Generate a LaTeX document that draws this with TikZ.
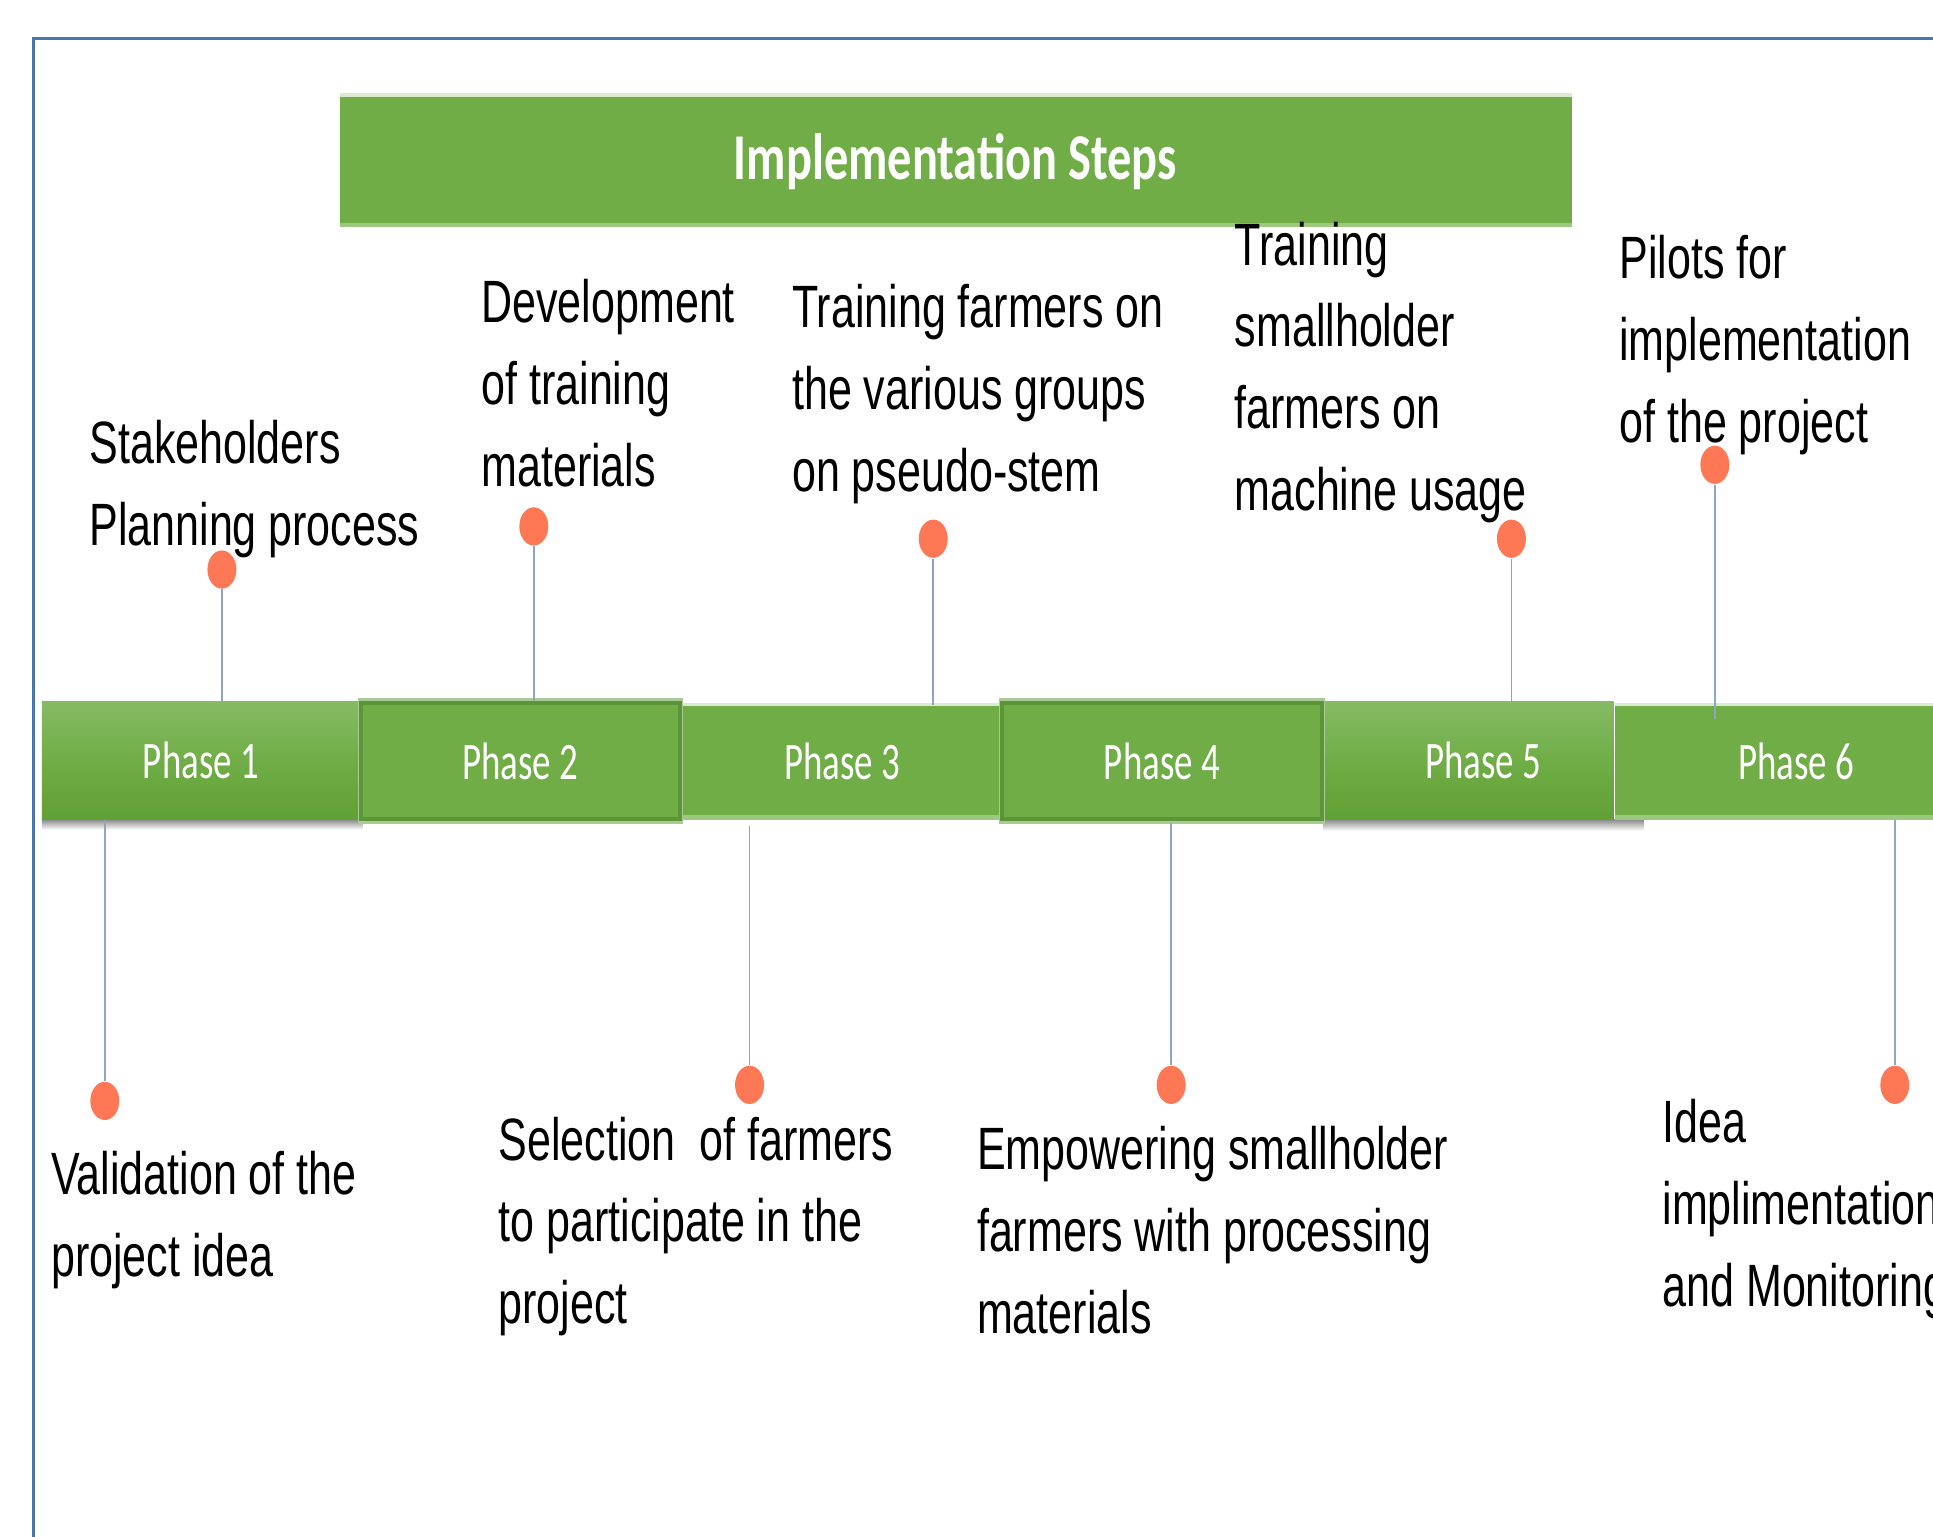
\documentclass[tikz,border=0pt]{standalone}
\usepackage{fontspec}
\setmainfont{Liberation Sans}[FakeStretch=0.72]
\newfontfamily\calibfont{Carlito}[FakeStretch=0.7]
\newfontfamily\calibtitle{Carlito}[FakeStretch=0.74]
\usetikzlibrary{shapes.geometric}
\newcommand\pxu{0.012328cm}
\newcommand\txtlines[1]{\vtop{\baselineskip=23.3pt\halign{##\hfil\cr#1\crcr}}}
\definecolor{grn}{HTML}{70AD47}
\definecolor{grntop}{HTML}{86BB64}
\definecolor{grnbot}{HTML}{61A034}
\definecolor{grnborder}{HTML}{5B9538}
\definecolor{grnhalo}{HTML}{A9C996}
\definecolor{striplight}{HTML}{DCEAD2}
\definecolor{stripmid}{HTML}{9CC87F}
\definecolor{dotc}{HTML}{FF7856}
\definecolor{connc}{HTML}{8FA4C0}
\definecolor{framec}{HTML}{4A76B0}
\definecolor{shadowc}{HTML}{8E8E8E}
\begin{document}
\begin{tikzpicture}[x=0.012328cm,y=-0.012328cm,
  boxbase/.style={rectangle, inner sep=0pt, outer sep=0pt},
  phasetxt/.style={text=white, font=\calibfont\fontsize{15pt}{18pt}\selectfont},
  phasegrad/.style={boxbase, top color=grntop, bottom color=grnbot, middle color=grn, phasetxt},
  phaseborder/.style={boxbase, fill=grn, draw=grnborder, line width=1.1pt, phasetxt},
  phasestrip/.style={boxbase, fill=grn, phasetxt},
  titlebox/.style={boxbase, fill=grn},
  titletxt/.style={text=white, inner sep=0pt, font=\calibtitle\bfseries\fontsize{18.6pt}{22pt}\selectfont},
  dot/.style={ellipse, fill=dotc, inner sep=0pt, minimum width=23.5*\pxu, minimum height=31*\pxu},
  conn/.style={draw=connc, line width=0.5pt},
  bodytxt/.style={inner sep=0pt, anchor=base west, text=black, font=\fontsize{17pt}{23.3pt}\selectfont},
  frameline/.style={draw=framec, line width=0.8pt}
]
\clip (0,0) rectangle (1568,1246);
\fill[white] (0,0) rectangle (1568,1246);
% frame
\draw[frameline] (27,1260) -- (27,31.5) -- (1580,31.5);

% title
\node[titlebox, minimum width=999*\pxu, minimum height=108.5*\pxu] (title) at (775.5,129.75) {};
\fill[striplight] (title.north west) rectangle ([yshift=-3*\pxu]title.north east);
\fill[stripmid] ([yshift=3.5*\pxu]title.south west) rectangle (title.south east);
\node[titletxt, anchor=base] (titletext) at (775,146) {Implementation Steps};

% shadows
\shade[top color=shadowc, bottom color=white] (34,665) rectangle (294,673);
\shade[top color=shadowc, bottom color=white] (1073,665) rectangle (1333,674);

% phase boxes
\node[phasegrad, minimum width=258*\pxu, minimum height=96*\pxu] (p1) at (163,617) {Phase 1};
\node[phasestrip, minimum width=258*\pxu, minimum height=95*\pxu] (p3) at (683,617.5) {Phase 3};
\fill[striplight] (p3.north west) rectangle ([yshift=-3*\pxu]p3.north east);
\fill[stripmid] ([yshift=3.5*\pxu]p3.south west) rectangle (p3.south east);
\node[phasestrip, minimum width=294*\pxu, minimum height=95*\pxu] (p6) at (1457,617.5) {Phase 6};
\fill[striplight] (p6.north west) rectangle ([yshift=-3*\pxu]p6.north east);
\fill[stripmid] ([yshift=3.5*\pxu]p6.south west) rectangle (p6.south east);
\node[phasegrad, minimum width=236*\pxu, minimum height=96*\pxu] (p5) at (1191,617) {\hspace*{0.296cm}Phase 5};
\fill[grnhalo] (290,566.5) rectangle (554,668.5);
\fill[grnhalo] (810,566.5) rectangle (1075,668.5);
\node[phaseborder, minimum width=259*\pxu, minimum height=94*\pxu] (p2) at (422,617.5) {Phase 2};
\node[phaseborder, minimum width=260*\pxu, minimum height=94*\pxu] (p4) at (942.5,617.5) {Phase 4};

% dots
\node[dot] (t1) at (180,462) {};
\node[dot] (t2) at (433,427) {};
\node[dot] (t3) at (757,437) {};
\node[dot] (t4) at (1226,437) {};
\node[dot] (t5) at (1391,377) {};
\node[dot] (b1) at (85,893) {};
\node[dot] (b2) at (608,880) {};
\node[dot] (b3) at (950,880) {};
\node[dot] (b4) at (1537,880) {};

% connectors
\draw[conn] (t1.south) -- (t1 |- p1.north);
\draw[conn] (t2.south) -- ([yshift=1.5*\pxu]t2 |- p2.north);
\draw[conn] (t3.south) -- ([yshift=-2*\pxu]t3 |- p3.north);
\draw[conn] (t4.south) -- ([yshift=-2*\pxu]t4 |- p5.north);
\draw[conn] (t5.south) -- ([yshift=-13*\pxu]t5 |- p6.north);
\draw[conn] (b1 |- p1.south) -- (b1.north);
\draw[conn] ([yshift=-5*\pxu]b2 |- p3.south) -- (b2.north);
\draw[conn] ([yshift=-3*\pxu]b3 |- p4.south) -- (b3.north);
\draw[conn] (b4 |- p6.south) -- (b4.north);

% texts
\node[bodytxt] (s1) at (72,376) {\txtlines{Stakeholders\cr Planning process}};
\node[bodytxt] (s2) at (390,262) {\txtlines{Development\cr of training\cr materials}};
\node[bodytxt] (s3) at (642,266) {\txtlines{Training farmers on\cr the various groups\cr on pseudo-stem}};
\node[bodytxt] (s4) at (1001,215) {\txtlines{Training\cr smallholder\cr farmers on\cr machine usage}};
\node[bodytxt] (s5) at (1313,226) {\txtlines{Pilots for\cr implementation\cr of the project}};
\node[bodytxt] (u1) at (41,969) {\txtlines{Validation of the\cr project idea}};
\node[bodytxt] (u2) at (404,941) {\txtlines{Selection\ \ of farmers\cr to participate in the\cr project}};
\node[bodytxt] (u3) at (792,949) {\txtlines{Empowering smallholder\cr farmers with processing\cr materials}};
\node[bodytxt] (u4) at (1348,927) {\txtlines{Idea\cr implimentation\cr and Monitoring}};
\end{tikzpicture}
\end{document}
